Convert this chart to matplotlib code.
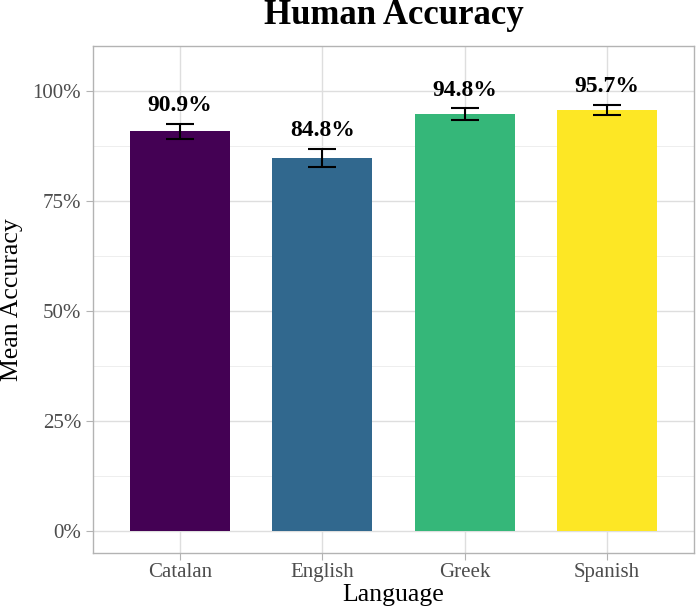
import matplotlib.pyplot as plt
import matplotlib.ticker as mticker
import numpy as np

languages = ["Catalan", "English", "Greek", "Spanish"]
mean_acc = [0.909, 0.848, 0.948, 0.957]
se_acc = [0.017, 0.021, 0.013, 0.012]
bar_colors = ["#440154", "#31688E", "#35B779", "#FDE725"]

plt.rcParams['font.family'] = ['Liberation Serif', 'DejaVu Serif']

fig = plt.figure(figsize=(6.96, 6.16), dpi=100)
ax = fig.add_axes([93 / 696, 1 - 553 / 616, (694 - 93) / 696, (553 - 45.5) / 616])

x = np.arange(1, len(languages) + 1)
ax.bar(x, mean_acc, width=0.7, color=bar_colors, zorder=2)
ax.errorbar(x, mean_acc, yerr=se_acc, fmt='none', ecolor='black',
            elinewidth=1.5, capsize=10, capthick=1.5, zorder=3)
for xi, m, s in zip(x, mean_acc, se_acc):
    ax.annotate(f"{m * 100:.1f}%", (xi, m + s), xytext=(0, 5.5), textcoords='offset points',
                ha='center', va='bottom', fontsize=17, fontweight='bold')

ax.set_xticks(x)
ax.set_xticklabels(languages)
ax.set_yticks([0, 0.25, 0.5, 0.75, 1.0])
ax.yaxis.set_major_formatter(mticker.FuncFormatter(lambda v, p: f"{v * 100:.0f}%"))
ax.set_yticks([0.125, 0.375, 0.625, 0.875], minor=True)
ax.set_xlim(0.39, 4.61)
ax.set_ylim(-0.05, 1.104)

ax.grid(True, which='major', color='#DEDEDE', linewidth=1.0, zorder=0)
ax.grid(True, which='minor', axis='y', color='#EBEBEB', linewidth=0.6, zorder=0)
ax.set_axisbelow(True)
for sp in ax.spines.values():
    sp.set_color('#B3B3B3')
    sp.set_linewidth(1.0)
ax.tick_params(which='major', color='#B3B3B3', length=5, labelcolor='#4D4D4D', labelsize=15)
ax.tick_params(axis='x', pad=2)
ax.tick_params(axis='y', pad=3.5)
ax.tick_params(which='minor', length=0)

ax.set_xlabel("Language", fontsize=18.5, labelpad=2)
ax.set_ylabel("Mean Accuracy", fontsize=18.5, labelpad=7)
fig.text(393.5 / 696, 1 - 24 / 616, "Human Accuracy", ha='center', va='baseline',
         fontsize=25, fontweight='bold')

fig.savefig("out.png", dpi=100)
